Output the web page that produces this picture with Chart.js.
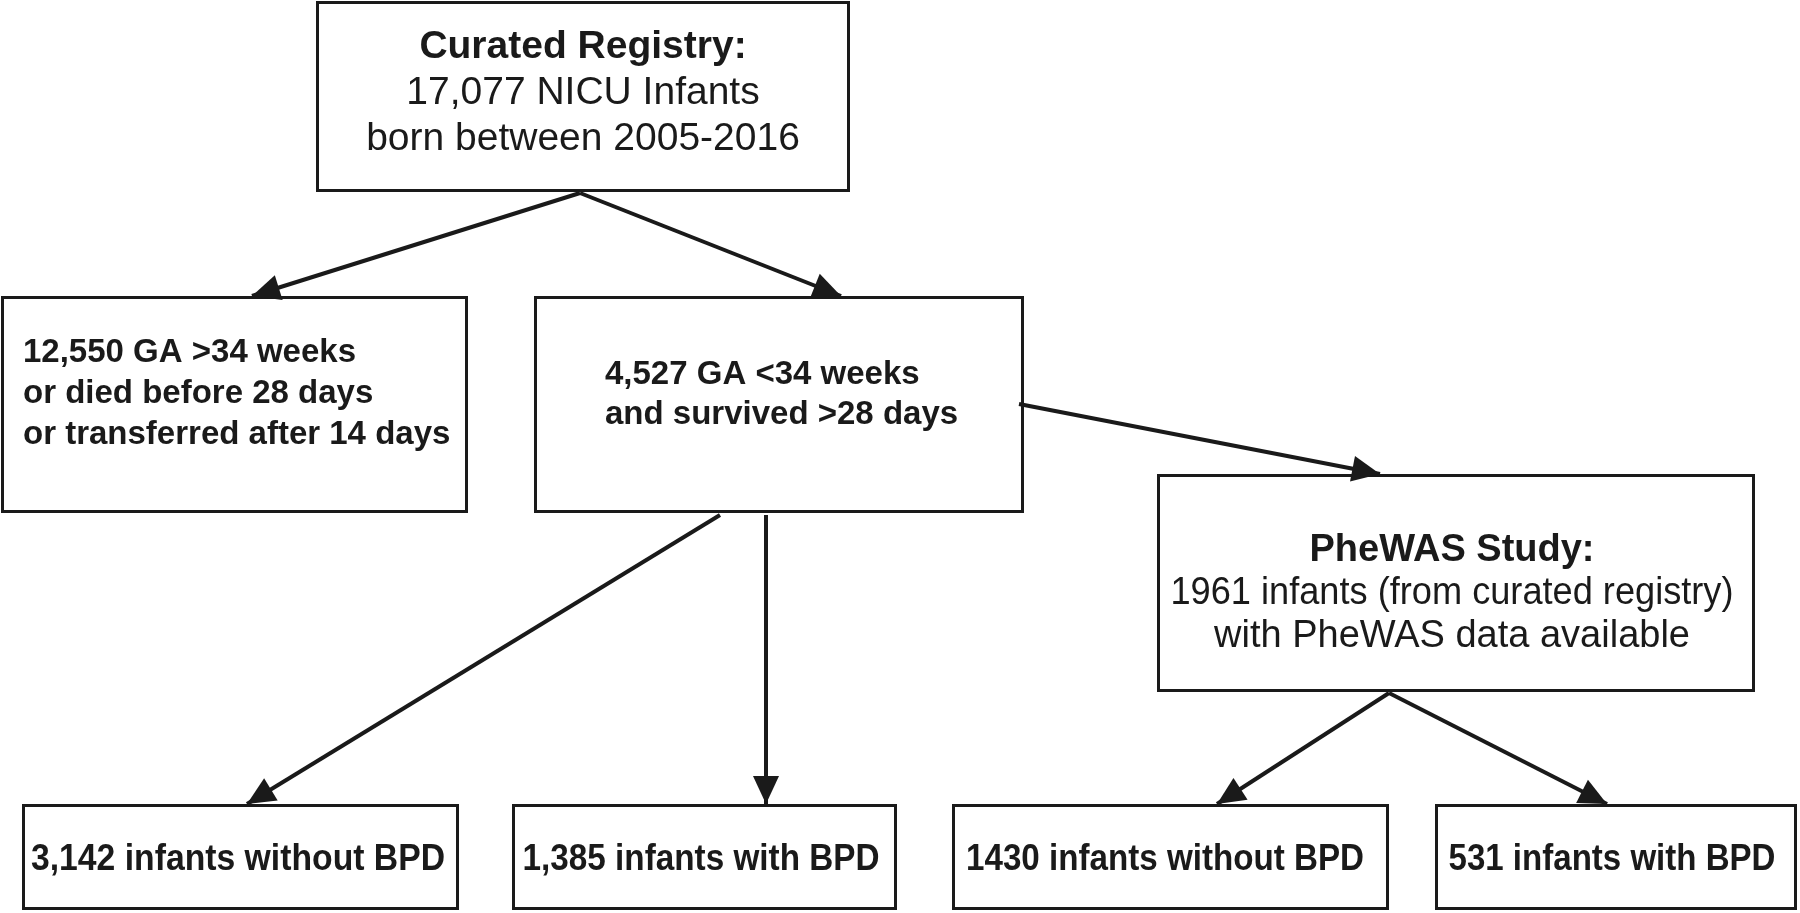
<!DOCTYPE html>
<html>
<head>
<meta charset="utf-8">
<script src="https://cdn.jsdelivr.net/npm/chart.js@4"></script>
<style>
  body { margin: 0; background: #fff; }
  canvas { display: block; }
</style>
</head>
<body>
<canvas id="flow" width="1800" height="913"></canvas>
<script>
// Infant counts in each step of the cohort
const stepNames = ['registry', 'excluded', 'preterm', 'phewas', 'pretermNoBpd', 'pretermBpd', 'phewasNoBpd', 'phewasBpd'];
const stepCounts = [17077, 12550, 4527, 1961, 3142, 1385, 1430, 531];

// Which step feeds which (arrows)
const linkFrom = [0, 0, 2, 2, 2, 3, 3];
const linkTo = [1, 2, 3, 4, 5, 6, 7];

const fmt = n => n.toLocaleString('en-US');

// Box text for each step
const stepLines = [
    [{ t: 'Curated Registry:', b: true }, { t: fmt(stepCounts[0]) + ' NICU Infants' }, { t: 'born between 2005-2016' }],
    [{ t: fmt(stepCounts[1]) + ' GA >34 weeks', b: true }, { t: 'or died before 28 days', b: true }, { t: 'or transferred after 14 days', b: true }],
    [{ t: fmt(stepCounts[2]) + ' GA <34 weeks', b: true }, { t: 'and survived >28 days', b: true }],
    [{ t: 'PheWAS Study:', b: true }, { t: stepCounts[3] + ' infants (from curated registry)' }, { t: 'with PheWAS data available' }],
    [{ t: fmt(stepCounts[4]) + ' infants without BPD', b: true }],
    [{ t: fmt(stepCounts[5]) + ' infants with BPD', b: true }],
    [{ t: stepCounts[6] + ' infants without BPD', b: true }],
    [{ t: stepCounts[7] + ' infants with BPD', b: true }]
];

// Layout (in a 1800 x 913 drawing space): box [x0, y0, x1, y1]
const boxRects = [
    [316, 1, 850, 192],
    [1, 296, 468, 513],
    [534, 296, 1024, 513],
    [1157, 474, 1755, 692],
    [22, 804, 459, 910],
    [512, 804, 897, 910],
    [952, 804, 1389, 910],
    [1435, 804, 1797, 910]
];
// text: align, x anchor, first line centre y, line gap, font size, max width
const textLayout = [
    { align: 'center', x: 583, y: 47, gap: 46, size: 39, maxW: 440 },
    { align: 'left', x: 23, y: 353, gap: 41, size: 33, maxW: 432 },
    { align: 'left', x: 605, y: 375, gap: 40, size: 33, maxW: 356 },
    { align: 'center', x: 1452, y: 551, gap: 43, size: 38, maxW: 563 },
    { align: 'center', x: 238, y: 860, gap: 0, size: 37, maxW: 414 },
    { align: 'center', x: 701, y: 860, gap: 0, size: 37, maxW: 357 },
    { align: 'center', x: 1165, y: 860, gap: 0, size: 37, maxW: 398 },
    { align: 'center', x: 1612, y: 860, gap: 0, size: 37, maxW: 327 }
];
// arrow start and end points
const linkStart = [[580, 193], [580, 193], [1019, 404], [720, 515], [766, 515], [1389, 693], [1389, 693]];
const linkEnd = [[252, 296], [841, 296], [1380, 474], [247, 804], [766, 804], [1217, 804], [1607, 804]];

const ink = '#1a1a1a';

const flowPlugin = {
    id: 'flowBoxes',
    afterDatasetsDraw(chart) {
        const ctx = chart.ctx;
        const xs = chart.scales.x, ys = chart.scales.y;
        ctx.save();
        // boxes
        ctx.strokeStyle = ink;
        ctx.lineWidth = 3;
        boxRects.forEach(r => {
            const x0 = xs.getPixelForValue(r[0]), x1 = xs.getPixelForValue(r[2]);
            const y0 = ys.getPixelForValue(r[1]), y1 = ys.getPixelForValue(r[3]);
            ctx.strokeRect(x0 + 1.5, y0 + 1.5, x1 - x0 - 3, y1 - y0 - 3);
        });
        // arrowheads
        ctx.fillStyle = ink;
        chart.data.datasets.forEach((ds, i) => {
            const pts = chart.getDatasetMeta(i).data;
            const a = pts[0], b = pts[pts.length - 1];
            const ang = Math.atan2(b.y - a.y, b.x - a.x);
            const len = 28, half = 13;
            ctx.beginPath();
            ctx.moveTo(b.x, b.y);
            ctx.lineTo(b.x - len * Math.cos(ang) + half * Math.sin(ang), b.y - len * Math.sin(ang) - half * Math.cos(ang));
            ctx.lineTo(b.x - len * Math.cos(ang) - half * Math.sin(ang), b.y - len * Math.sin(ang) + half * Math.cos(ang));
            ctx.closePath();
            ctx.fill();
        });
        // text
        ctx.textBaseline = 'middle';
        stepLines.forEach((lines, i) => {
            const L = textLayout[i];
            ctx.textAlign = L.align;
            lines.forEach((ln, j) => {
                ctx.font = (ln.b ? 'bold ' : '') + L.size + 'px "Liberation Sans", Arial, sans-serif';
                ctx.fillText(ln.t, xs.getPixelForValue(L.x), ys.getPixelForValue(L.y + j * L.gap), L.maxW);
            });
        });
        ctx.restore();
    }
};

new Chart(document.getElementById('flow').getContext('2d'), {
    type: 'scatter',
    data: {
        datasets: linkFrom.map((f, i) => ({
            label: stepNames[f] + ' -> ' + stepNames[linkTo[i]],
            data: [
                { x: linkStart[i][0], y: linkStart[i][1] },
                { x: linkEnd[i][0], y: linkEnd[i][1] }
            ],
            showLine: true,
            borderColor: ink,
            borderWidth: 4,
            pointRadius: 0
        }))
    },
    options: {
        responsive: false,
        animation: false,
        layout: { padding: 0 },
        plugins: {
            legend: { display: false },
            tooltip: { enabled: false }
        },
        scales: {
            x: { type: 'linear', min: 0, max: 1800, display: false },
            y: { type: 'linear', min: 0, max: 913, reverse: true, display: false }
        }
    },
    plugins: [flowPlugin]
});
</script>
</body>
</html>
